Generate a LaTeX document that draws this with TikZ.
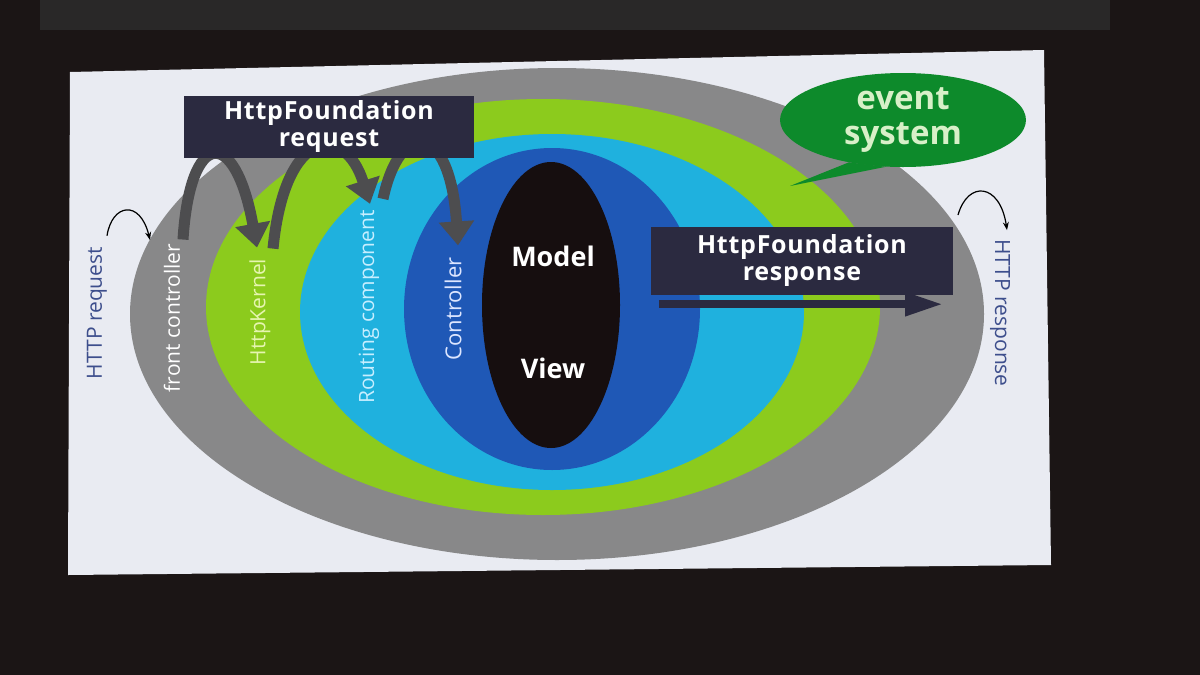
\documentclass[tikz,border=0pt]{standalone}
\usepackage{fontspec}
\setmainfont{Open Sans}
\usetikzlibrary{arrows.meta}
\usetikzlibrary{calc}
\usetikzlibrary{positioning}
\usetikzlibrary{shapes.geometric}

\definecolor{room}{HTML}{1B1515}
\definecolor{ceiling}{HTML}{292828}
\definecolor{screen}{HTML}{E9EBF2}
\definecolor{ringgrey}{HTML}{888889}
\definecolor{ringlime}{HTML}{8CCB1D}
\definecolor{ringcyan}{HTML}{1FB1DE}
\definecolor{ringblue}{HTML}{1F58B6}
\definecolor{core}{HTML}{160E0F}
\definecolor{boxnavy}{HTML}{2B2A40}
\definecolor{arrowgrey}{HTML}{4D4D4F}
\definecolor{bubble}{HTML}{0D8A2B}
\definecolor{eventtext}{HTML}{D8F0C8}
\definecolor{httpblue}{HTML}{3D4E8C}
\definecolor{kerneltext}{HTML}{E6F5B0}
\definecolor{routetext}{HTML}{C6EEFF}
\definecolor{ctrltext}{HTML}{DDE6FF}

\begin{document}
\begin{tikzpicture}[x=1pt,y=-1pt,
    ring/.style={font=\fontsize{21}{23}\selectfont, inner sep=0pt},
    banner/.style={fill=boxnavy, text=white, align=center, inner sep=0pt,
        font=\fontsize{25}{27}\selectfont\bfseries\addfontfeature{LetterSpace=3}, minimum width=290pt, minimum height=62pt},
    hop/.style={line width=11pt, draw=arrowgrey, -{Triangle[width=34pt,length=24pt]}},
    hint/.style={line width=1.2pt, draw=black, -{Stealth[length=8pt,width=6pt]}}]

    \useasboundingbox (0,0) rectangle (1200,675);
    \fill[room] (0,0) rectangle (1200,675);
    \fill[ceiling] (40,0) rectangle (1110,30);
    \fill[screen] (70,72) -- (1044,50) -- (1051,565) -- (68,575) -- cycle;

    % the rings
    \fill[ringgrey] (557,314) ellipse [x radius=427, y radius=246];
    \fill[ringlime] (543,307) ellipse [x radius=337, y radius=208];
    \fill[ringcyan] (552,312) ellipse [x radius=252, y radius=178];
    \fill[ringblue] (552,309) ellipse [x radius=148, y radius=161];
    \fill[core] (551,305) ellipse [x radius=69, y radius=143];

    \node[ring, text=httpblue, rotate=90] (httpreq) at (97,313) {HTTP request};
    \node[ring, text=white, rotate=90] (front) at (172,318) {front controller};
    \node[ring, text=kerneltext, rotate=90] (kernel) at (260,312) {HttpKernel};
    \node[ring, text=routetext, rotate=90] (routing) at (369,307) {Routing component};
    \node[ring, text=ctrltext, rotate=90, font=\fontsize{22}{24}\selectfont] (controller) at (453,309) {Controller};
    \node[ring, text=httpblue, rotate=-90] (httpresp) at (1000,313) {HTTP response};

    \node[ring, text=white, font=\fontsize{27}{29}\selectfont\bfseries] (model) at (553,256) {Model};
    \node[ring, text=white, font=\fontsize{27}{29}\selectfont\bfseries] (view) at (553,368) {View};

    % request handed from layer to layer
    \draw[hop] ($(front.east)+(11,-4)$) .. controls +(7,-111) and +(-22,-122) .. ($(kernel.east)+(-3,-11)$);
    \draw[hop] ($(kernel.east)+(13,-10)$) .. controls +(12,-123) and +(-25,-80) .. ($(routing.east)+(1,-6)$);
    \draw[hop] ($(routing.east)+(14,-11)$) .. controls +(17,-80) and +(-8,-125) .. ($(controller.east)+(5,-12)$);

    \node[banner] (request) at (329,127) {HttpFoundation\\request};

    \coordinate (reqin) at (150,240);
    \draw[hint] ($(httpreq.east)+(10,-11)$) .. controls +(5,-32) and +(-10,-41) .. (reqin);
    \coordinate (respout) at (958,215);
    \draw[hint] (respout) .. controls +(10,-35) and +(-7,-47) .. ($(httpresp.west)+(7,-9)$);

    \node[ellipse, fill=bubble, minimum width=246pt, minimum height=94pt, inner sep=0pt,
        text=eventtext, align=center, font=\fontsize{33}{35}\selectfont\bfseries] (event) at (903,120) {event\\system};
    \coordinate (eventtip) at (790,186);
    \fill[bubble] (eventtip) -- (event.218) -- (event.250) -- cycle;

    \node[banner, minimum width=302pt, minimum height=68pt] (response) at (802,261) {HttpFoundation\\response};
    \draw[line width=8pt, draw=boxnavy, -{Triangle[width=22pt,length=38pt]}]
        ($(response.south west)+(8,9)$) -- ($(response.south east)+(-10,9)$);

\end{tikzpicture}
\end{document}
